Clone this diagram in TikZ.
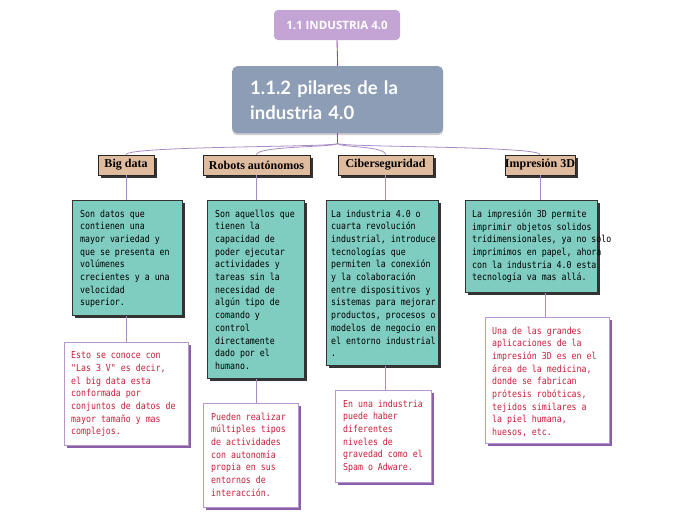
\documentclass[tikz,border=0pt]{standalone}
\usepackage{fontspec}
\setmainfont{Liberation Serif}
\newfontfamily\pxfont[FakeStretch=0.86]{DejaVu Sans Mono}
\newfontfamily\titlefont{Lato}
\newfontfamily\topfont{Open Sans}
\usetikzlibrary{shadows,calc}
\definecolor{topfill}{HTML}{C4A3D5}
\definecolor{mainfill}{HTML}{8C9DB5}
\definecolor{hdrfill}{HTML}{E0BC9F}
\definecolor{greenfill}{HTML}{7FCDC1}
\definecolor{wborder}{HTML}{B896CF}
\definecolor{wshadow}{HTML}{8A5FA8}
\definecolor{redtext}{HTML}{C81E3C}
\definecolor{linecol}{HTML}{A98BC4}
\definecolor{toplinecol}{HTML}{8E44AD}
\begin{document}
\begin{tikzpicture}[x=1pt,y=-1pt,
  topbox/.style={fill=topfill, rounded corners=4pt, text=white, font={\topfont\bfseries\fontsize{11.5}{13}\selectfont}, inner sep=0pt},
  mainbox/.style={fill=mainfill, rounded corners=5pt, text=white, font={\titlefont\bfseries\fontsize{18.5}{25}\selectfont}, inner xsep=18pt, inner ysep=0pt, align=left, drop shadow={shadow xshift=0pt, shadow yshift=-2pt, fill=black!40, opacity=0.5}},
  hdr/.style={fill=hdrfill, draw=black!85, line width=0.6pt, font={\bfseries\fontsize{12}{14}\selectfont}, minimum height=20pt, inner sep=0pt, drop shadow={shadow xshift=2.5pt, shadow yshift=-2.5pt, fill=black!80, opacity=1}},
  greenbox/.style={fill=greenfill, draw=black!80, line width=0.6pt, anchor=north west, inner sep=0pt, drop shadow={shadow xshift=2.5pt, shadow yshift=-2.5pt, fill=black!80, opacity=1}},
  whitebox/.style={fill=white, draw=wborder, line width=0.8pt, anchor=north west, inner sep=0pt, drop shadow={shadow xshift=2.5pt, shadow yshift=-2.5pt, fill=wshadow, opacity=1}},
  gtext/.style={anchor=north west, align=left, inner sep=0pt, font={\pxfont\fontsize{9.6}{12.7}\selectfont}},
  wtext/.style={gtext, text=redtext},
  conn/.style={draw=linecol, line width=0.8pt},
]
\useasboundingbox (0,0) rectangle (696,520);

\node[topbox, minimum width=126pt, minimum height=30pt] (top) at (337,25) {1.1 INDUSTRIA 4.0};
\node[mainbox, anchor=north west, minimum width=211pt, minimum height=67pt, text width=175pt] (main) at (232,66) {1.1.2 pilares de la\\industria 4.0};

\node[hdr, minimum width=56pt] (h1) at (126,165) {Big data};
\node[hdr, minimum width=107pt] (h2) at (256.5,165) {Robots autónomos};
\node[hdr, minimum width=95pt] (h3) at (385.5,165) {Ciberseguridad};
\node[hdr, minimum width=70pt] (h4) at (540,165) {Impresión 3D};

\node[greenbox, minimum width=110pt, minimum height=115pt] (g1) at (72,200) {};
\node[greenbox, minimum width=97pt, minimum height=178pt] (g2) at (207,200) {};
\node[greenbox, minimum width=112pt, minimum height=165pt] (g3) at (326,200) {};
\node[greenbox, minimum width=132pt, minimum height=92pt] (g4) at (465,200) {};

\node[whitebox, minimum width=124pt, minimum height=103pt] (w1) at (64,342) {};
\node[whitebox, minimum width=95pt, minimum height=104pt] (w2) at (203,403) {};
\node[whitebox, minimum width=96pt, minimum height=92pt] (w3) at (335,390) {};
\node[whitebox, minimum width=124pt, minimum height=126pt] (w4) at (485,317) {};

\node[gtext] (g1t) at ($(g1.north west)+(8,9.5)$) {Son datos que\\contienen una\\mayor variedad y\\que se presenta en\\volúmenes\\crecientes y a una\\velocidad\\superior.};
\node[gtext] (g2t) at ($(g2.north west)+(8,9.5)$) {Son aquellos que\\tienen la\\capacidad de\\poder ejecutar\\actividades y\\tareas sin la\\necesidad de\\algún tipo de\\comando y\\control\\directamente\\dado por el\\humano.};
\node[gtext] (g3t) at ($(g3.north west)+(5,9.5)$) {La industria 4.0 o\\cuarta revolución\\industrial, introduce\\tecnologías que\\permiten la conexión\\y la colaboración\\entre dispositivos y\\sistemas para mejorar\\productos, procesos o\\modelos de negocio en\\el entorno industrial\\.};
\node[gtext] (g4t) at ($(g4.north west)+(7,9.5)$) {La impresión 3D permite\\imprimir objetos solidos\\tridimensionales, ya no solo\\imprimimos en papel, ahora\\con la industria 4.0 esta\\tecnología va mas allá.};

\node[wtext] (w1t) at ($(w1.north west)+(7,9.5)$) {Esto se conoce con\\"Las 3 V" es decir,\\el big data esta\\conformada por\\conjuntos de datos de\\mayor tamaño y mas\\complejos.};
\node[wtext] (w2t) at ($(w2.north west)+(8,9.5)$) {Pueden realizar\\múltiples tipos\\de actividades\\con autonomía\\propia en sus\\entornos de\\interacción.};
\node[wtext] (w3t) at ($(w3.north west)+(8,9.5)$) {En una industria\\puede haber\\diferentes\\niveles de\\gravedad como el\\Spam o Adware.};
\node[wtext] (w4t) at ($(w4.north west)+(7,9.5)$) {Una de las grandes\\aplicaciones de la\\impresión 3D es en el\\área de la medicina,\\donde se fabrican\\prótesis robóticas,\\tejidos similares a\\la piel humana,\\huesos, etc.};

\draw[draw=toplinecol, line width=0.9pt] (top.south) -- (main.north);
\coordinate (split) at ($(main.south)+(0,10)$);
\draw[draw=toplinecol, line width=0.9pt] (main.south) -- (split);
\foreach \h in {h1,h2,h3,h4}{
  \draw[conn] (split) .. controls ($(split)+(0,4)$) and ($(\h.north)+(0,-9)$) .. (\h.north);
}
\draw[conn] (h1.south) -- (h1.south |- g1.north);
\draw[conn] (h2.south) -- (h2.south |- g2.north);
\draw[conn] (h3.south) -- (h3.south |- g3.north);
\draw[conn] (h4.south) -- (h4.south |- g4.north);
\draw[conn] (h1.south |- g1.south) -- (h1.south |- w1.north);
\draw[conn] (h2.south |- g2.south) -- (h2.south |- w2.north);
\draw[conn] (h3.south |- g3.south) -- (h3.south |- w3.north);
\coordinate (c4) at ($(h4.south)+(5,0)$);
\draw[conn] (c4 |- g4.south) -- (c4 |- w4.north);
\end{tikzpicture}
\end{document}
